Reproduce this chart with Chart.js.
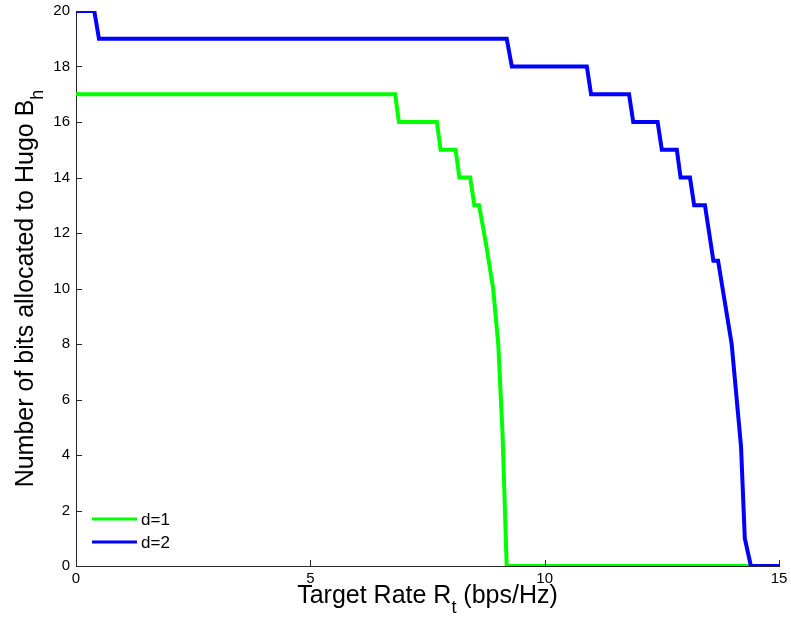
<!DOCTYPE html>
<html>
<head>
<meta charset="utf-8">
<script src="https://cdn.jsdelivr.net/npm/chart.js@4.4.1/dist/chart.umd.min.js"></script>
<style>
  html, body { margin: 0; padding: 0; background: #fff; }
  #wrap { width: 791px; height: 620px; }
</style>
</head>
<body>
<div id="wrap"><canvas id="grafic"></canvas></div>
<script>
// d=1 : target rate (bps/Hz) vs bits allocated
const rateD1 = [0, 6.81, 6.89, 7.70, 7.78, 8.10, 8.18, 8.41, 8.50, 8.60, 8.75, 8.90, 9.01, 9.10, 9.19, 15];
const bitsD1 = [17, 17, 16, 16, 15, 15, 14, 14, 13, 13, 11.6, 10, 8, 4.8, 0, 0];

// d=2
const rateD2 = [0, 0.39, 0.49, 9.19, 9.30, 10.90, 10.99, 11.80, 11.89, 12.41, 12.50, 12.82, 12.90,
                13.10, 13.19, 13.42, 13.60, 13.70, 13.99, 14.19, 14.27, 14.40, 15];
const bitsD2 = [20, 20, 19, 19, 18, 18, 17, 17, 16, 16, 15, 15, 14,
                14, 13, 13, 11, 11, 8, 4.3, 1, 0, 0];

const xTicks = [0, 5, 10, 15];
const yTicks = [0, 2, 4, 6, 8, 10, 12, 14, 16, 18, 20];

const series = [
    { label: 'd=1', x: rateD1, y: bitsD1, color: '#00ff00', order: 1 },
    { label: 'd=2', x: rateD2, y: bitsD2, color: '#0000ff', order: 0 }
];

const FONT = '"Liberation Sans", Arial, Helvetica, sans-serif';
const AXIS = '#262626';

// short tick marks pointing into the plot
const inwardTicks = {
    id: 'inwardTicks',
    afterDraw(chart) {
        const { ctx, chartArea: a, scales } = chart;
        ctx.save();
        ctx.strokeStyle = AXIS;
        ctx.lineWidth = 1;
        ctx.beginPath();
        xTicks.forEach(v => {
            const px = Math.round(scales.x.getPixelForValue(v)) + 0.5;
            ctx.moveTo(px, a.bottom);
            ctx.lineTo(px, a.bottom - 6);
        });
        yTicks.forEach(v => {
            const py = Math.round(scales.y.getPixelForValue(v)) + 0.5;
            ctx.moveTo(a.left, py);
            ctx.lineTo(a.left + 6, py);
        });
        ctx.stroke();
        ctx.restore();
    }
};

// axis titles with subscripts
function textWithSub(ctx, main, sub, after, x, y, align) {
    ctx.font = '25px ' + FONT;
    const wMain = ctx.measureText(main).width;
    const wAfter = ctx.measureText(after).width;
    ctx.font = '18px ' + FONT;
    const wSub = ctx.measureText(sub).width;
    const total = wMain + wSub + wAfter;
    let sx = align === 'center' ? x - total / 2 : x;
    ctx.textAlign = 'left';
    ctx.textBaseline = 'alphabetic';
    ctx.font = '25px ' + FONT;
    ctx.fillText(main, sx, y);
    ctx.font = '18px ' + FONT;
    ctx.fillText(sub, sx + wMain, y + 10);
    ctx.font = '25px ' + FONT;
    ctx.fillText(after, sx + wMain + wSub, y);
}

const axisTitles = {
    id: 'axisTitles',
    afterDraw(chart) {
        const { ctx, chartArea: a } = chart;
        ctx.save();
        ctx.fillStyle = '#000';
        textWithSub(ctx, 'Target Rate R', 't', ' (bps/Hz)', (a.left + a.right) / 2, 603, 'center');
        ctx.translate(33, (a.top + a.bottom) / 2);
        ctx.rotate(-Math.PI / 2);
        textWithSub(ctx, 'Number of bits allocated to Hugo B', 'h', '', 0, 0, 'center');
        ctx.restore();
    }
};

// legend in the lower left corner of the plot
const legendBox = {
    id: 'legendBox',
    afterDraw(chart) {
        const { ctx } = chart;
        ctx.save();
        ctx.font = '17px ' + FONT;
        ctx.textBaseline = 'middle';
        ctx.textAlign = 'left';
        series.forEach((s, i) => {
            const y = 519 + i * 23;
            ctx.strokeStyle = s.color;
            ctx.lineWidth = 3;
            ctx.beginPath();
            ctx.moveTo(92, y);
            ctx.lineTo(137, y);
            ctx.stroke();
            ctx.fillStyle = '#000';
            ctx.fillText(s.label, 141, y + 1);
        });
        ctx.restore();
    }
};

new Chart(document.getElementById('grafic'), {
    type: 'scatter',
    data: {
        datasets: series.map(s => ({
            label: s.label,
            data: s.x.map((v, i) => ({ x: v, y: s.y[i] })),
            showLine: true,
            borderColor: s.color,
            backgroundColor: s.color,
            borderWidth: 4,
            pointRadius: 0,
            tension: 0,
            order: s.order
        }))
    },
    options: {
        responsive: true,
        maintainAspectRatio: false,
        animation: false,
        events: [],
        layout: { padding: { left: 0, right: 12, top: 11, bottom: 0 } },
        plugins: { legend: { display: false }, tooltip: { enabled: false } },
        scales: {
            x: {
                type: 'linear',
                min: 0, max: 15,
                afterBuildTicks: sc => { sc.ticks = xTicks.map(v => ({ value: v })); },
                afterFit: sc => { sc.height = 54; sc.paddingLeft = 0; sc.paddingRight = 0; },
                grid: { display: false, drawTicks: false },
                border: { display: true, color: AXIS, width: 1 },
                ticks: { color: '#000', font: { family: FONT, size: 15 }, padding: 4, maxRotation: 0 }
            },
            y: {
                type: 'linear',
                min: 0, max: 20,
                afterBuildTicks: sc => { sc.ticks = yTicks.map(v => ({ value: v })); },
                afterFit: sc => { sc.width = 76; sc.paddingTop = 0; sc.paddingBottom = 0; },
                grid: { display: false, drawTicks: false },
                border: { display: true, color: AXIS, width: 1 },
                ticks: { color: '#000', font: { family: FONT, size: 15 }, padding: 6 }
            }
        }
    },
    plugins: [inwardTicks, axisTitles, legendBox]
});
</script>
</body>
</html>
